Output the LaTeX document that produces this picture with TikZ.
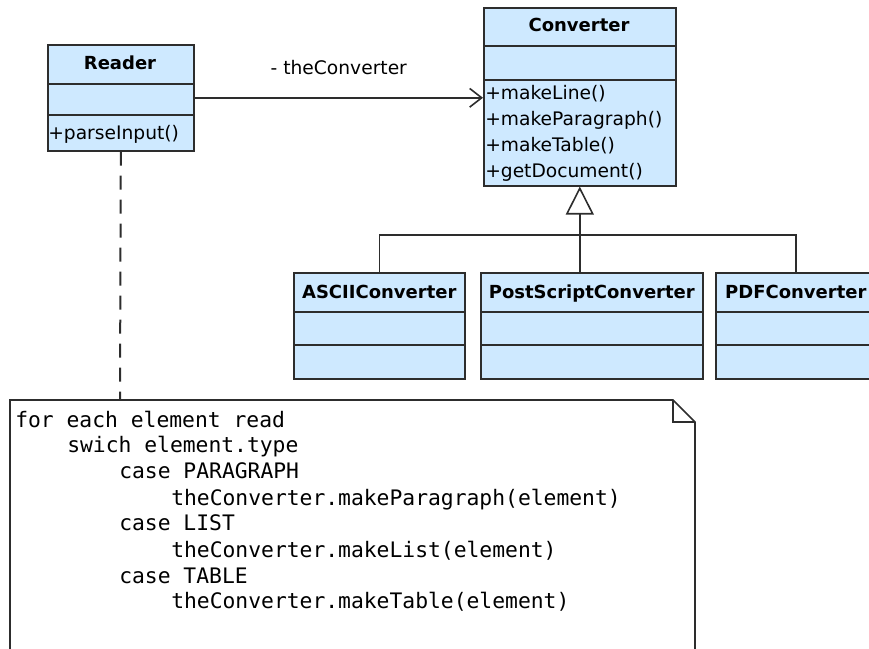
\documentclass[tikz,border=0pt]{standalone}
\usepackage{fontspec}
\setmainfont{DejaVu Sans}
\setmonofont{DejaVu Sans Mono}
\usetikzlibrary{arrows.meta,positioning}
\definecolor{classblue}{RGB}{206,233,255}
\definecolor{umlline}{RGB}{45,45,45}

\begin{document}
\begin{tikzpicture}[x=0.75pt,y=-0.75pt,
  klass/.style={draw=umlline, fill=classblue, line width=1.2pt, anchor=north west, inner sep=0pt},
  sep/.style={draw=umlline, line width=1.2pt},
  ktitle/.style={anchor=base, inner sep=0pt, font=\fontsize{13.5}{16}\selectfont\bfseries},
  kop/.style={anchor=base west, inner sep=0pt, font=\fontsize{14}{16}\selectfont},
  code/.style={anchor=base west, inner sep=0pt, font=\fontsize{16}{19.5}\ttfamily}]
  \useasboundingbox (0,0) rectangle (869,649);

  %Reader
  \node[klass, minimum width=109.5pt, minimum height=79.5pt] (reader) at (47,44) {};
  \draw[sep] ([yshift=-30pt]reader.north west) -- ([yshift=-30pt]reader.north east)
             ([yshift=-53.25pt]reader.north west) -- ([yshift=-53.25pt]reader.north east);
  \node[ktitle] (readerT) at (120,70) {Reader};
  \node[kop] (readerop) at (48,140) {+parseInput()};

  %Converter
  \node[klass, minimum width=144pt, minimum height=133.5pt] (conv) at (483,7) {};
  \draw[sep] ([yshift=-29.25pt]conv.north west) -- ([yshift=-29.25pt]conv.north east)
             ([yshift=-54.75pt]conv.north west) -- ([yshift=-54.75pt]conv.north east);
  \node[ktitle] (convT) at (579,32) {Converter};
  \foreach \op [count=\i] in {makeLine(),makeParagraph(),makeTable(),getDocument()}
    \node[kop] (convop\i) at (485,100+26*\i-26) {+\op};

  %subclasses
  \foreach \nm/\x/\w/\t in {ascii/293/171/ASCIIConverter,
                            post/480/222/PostScriptConverter,
                            pdf/715/160/PDFConverter}{
    \node[klass, minimum width=0.75pt*\w, minimum height=79.5pt] (\nm) at (\x,272) {};
    \draw[sep] ([yshift=-30pt]\nm.north west) -- ([yshift=-30pt]\nm.north east)
               ([yshift=-54.75pt]\nm.north west) -- ([yshift=-54.75pt]\nm.north east);
    \node[ktitle] (\nm T) at ([yshift=-20.25pt]\nm.north) {\t};
  }

  %association
  \draw[umlline, line width=1.2pt, -{Straight Barb[length=9pt,width=14pt,line width=1.2pt]}]
    (reader.east) -- (reader.east -| conv.west)
    node[midway, above=13pt, text=black, font=\fontsize{14}{16}\selectfont] (assoc) {- theConverter};

  %generalization
  \draw[umlline, line width=1.2pt, -{Triangle[open,length=21pt,width=21pt,line width=1.2pt]}]
    (post.north -| conv.south) -- (conv.south);
  \draw[umlline, line width=1.2pt] (ascii.north) -- ++(0,-37) -| (pdf.north);

  %note
  \coordinate (notetop) at (120,400);
  \draw[umlline, line width=1.2pt, fill=white] (10,400) -- (673,400) -- (695,422) -- (695,660) -- (10,660) -- cycle;
  \draw[umlline, line width=1.2pt] (673,400) -- (673,422) -- (695,422);
  \draw[umlline, line width=1.5pt, dash pattern=on 10.5pt off 7.5pt] (reader.south) -- (notetop);

  \foreach \txt/\lvl [count=\i] in {for each element read/0,
                                    swich element.type/1,
                                    case PARAGRAPH/2,
                                    theConverter.makeParagraph(element)/3,
                                    case LIST/2,
                                    theConverter.makeList(element)/3,
                                    case TABLE/2,
                                    theConverter.makeTable(element)/3}
    \node[code] (line\i) at (15+52*\lvl,427+26*\i-26) {\txt};
\end{tikzpicture}
\end{document}
